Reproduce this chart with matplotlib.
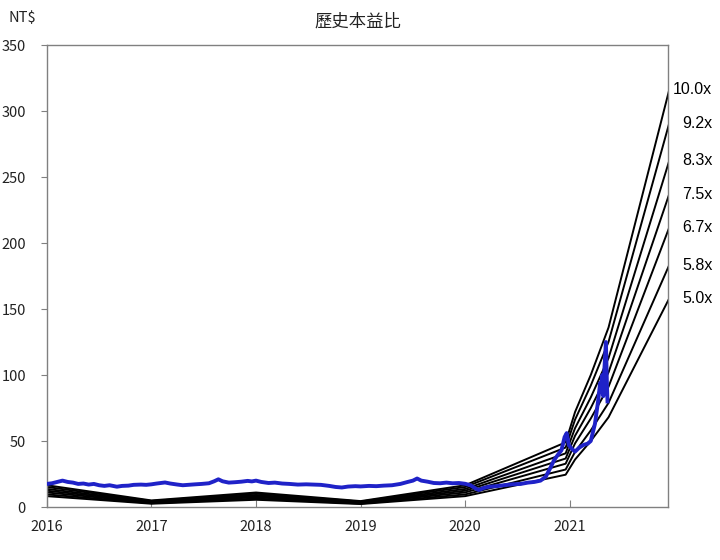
import matplotlib
matplotlib.use("Agg")
import matplotlib.pyplot as plt
import numpy as np

plt.rcParams['font.family'] = ['Noto Sans CJK TC', 'DejaVu Sans']

# EPS breakpoints used for the PE band lines (decimal years)
eps_dates = [2016.0, 2017.0, 2018.0, 2019.0, 2020.0, 2020.96, 2021.05, 2021.2, 2021.37, 2021.95]
eps_values = [1.65, 0.5, 1.1, 0.45, 1.65, 4.9, 7.2, 10.0, 13.6, 31.6]
multiples = [5.0, 5.8, 6.7, 7.5, 8.3, 9.2, 10.0]
band_labels = ['5.0x', '5.8x', '6.7x', '7.5x', '8.3x', '9.2x', '10.0x']

# closing price (decimal years, NT$)
price_dates = [
    2016.00, 2016.05, 2016.10, 2016.15, 2016.20, 2016.25, 2016.30, 2016.35, 2016.40, 2016.45,
    2016.50, 2016.55, 2016.60, 2016.67, 2016.72, 2016.78, 2016.83, 2016.90, 2016.95, 2017.00,
    2017.05, 2017.13, 2017.18, 2017.25, 2017.30, 2017.35, 2017.42, 2017.48, 2017.55, 2017.60,
    2017.64, 2017.68, 2017.74, 2017.80, 2017.86, 2017.92, 2017.96, 2018.00, 2018.05, 2018.12,
    2018.18, 2018.25, 2018.32, 2018.40, 2018.48, 2018.55, 2018.62, 2018.70, 2018.76, 2018.82,
    2018.88, 2018.95, 2019.00, 2019.08, 2019.15, 2019.22, 2019.30, 2019.38, 2019.45, 2019.50,
    2019.54, 2019.58, 2019.64, 2019.70, 2019.76, 2019.82, 2019.88, 2019.94, 2020.00, 2020.05,
    2020.10, 2020.13, 2020.18, 2020.23, 2020.30, 2020.39, 2020.45, 2020.53, 2020.60, 2020.66,
    2020.72, 2020.77, 2020.81, 2020.85, 2020.89, 2020.92, 2020.95, 2020.97, 2020.99, 2021.02,
    2021.05, 2021.09, 2021.13, 2021.17, 2021.20, 2021.24, 2021.27, 2021.29, 2021.30, 2021.31,
    2021.32, 2021.33, 2021.345, 2021.35, 2021.355, 2021.36,
]
price_values = [
    17.5, 18.0, 19.0, 20.0, 19.0, 18.5, 17.5, 17.8, 17.0, 17.5,
    16.5, 16.0, 16.5, 15.4, 16.0, 16.2, 16.8, 17.0, 16.8, 17.2,
    17.8, 18.6, 17.8, 17.0, 16.5, 16.8, 17.2, 17.5, 18.0, 19.5,
    21.0, 19.5, 18.5, 18.8, 19.2, 19.8, 19.4, 20.0, 19.0, 18.2,
    18.5, 17.8, 17.5, 17.0, 17.2, 17.0, 16.8, 16.0, 15.2, 14.8,
    15.5, 15.8, 15.6, 16.0, 15.8, 16.2, 16.5, 17.5, 19.0, 20.0,
    21.6, 20.0, 19.2, 18.2, 18.0, 18.5, 18.0, 18.2, 17.6, 16.5,
    14.0, 12.9, 14.5, 15.4, 15.8, 16.7, 17.2, 17.5, 18.5, 19.0,
    20.0, 23.0, 29.0, 35.6, 40.0, 43.0, 53.0, 56.0, 47.0, 44.0,
    42.0, 45.0, 47.0, 48.0, 50.0, 63.0, 80.0, 94.0, 87.0, 100.0,
    84.0, 104.0, 125.0, 108.0, 92.0, 80.0,
]

fig = plt.figure(figsize=(7.2, 5.6), dpi=100)
ax = fig.add_axes([0.065, 0.0946, 0.863, 0.825])

eps = np.array(eps_values)
for m, lab in zip(multiples, band_labels):
    ax.plot(eps_dates, eps * m, color='black', linewidth=1.4, zorder=2)
    ax.text(1.071, eps[-1] * m, lab, transform=ax.get_yaxis_transform(),
            ha='right', va='center', fontsize=11.5, family=['Liberation Sans'])

ax.plot(price_dates, price_values, color='#1f22c8', linewidth=2.8, zorder=3)

ax.set_xlim(2016.0, 2021.94)
ax.set_ylim(0, 350)
ax.set_xticks([2016, 2017, 2018, 2019, 2020, 2021])
ax.set_xticklabels(['2016', '2017', '2018', '2019', '2020', '2021'])
ax.set_yticks(np.arange(0, 351, 50))

for s in ax.spines.values():
    s.set_color('#808080')
    s.set_linewidth(1.0)
ax.tick_params(axis='x', direction='in', length=5, pad=9, labelsize=10.5,
               color='#808080', labelcolor='#222222')
ax.tick_params(axis='y', direction='out', length=4, pad=11, labelsize=10.5,
               color='#808080', labelcolor='#222222')

ax.set_title('歷史本益比', fontsize=12.5, pad=13, color='#222222')
fig.text(0.031, 0.968, 'NT$', ha='center', va='center', fontsize=10.5, color='#222222')

fig.savefig('out.png', dpi=100)
